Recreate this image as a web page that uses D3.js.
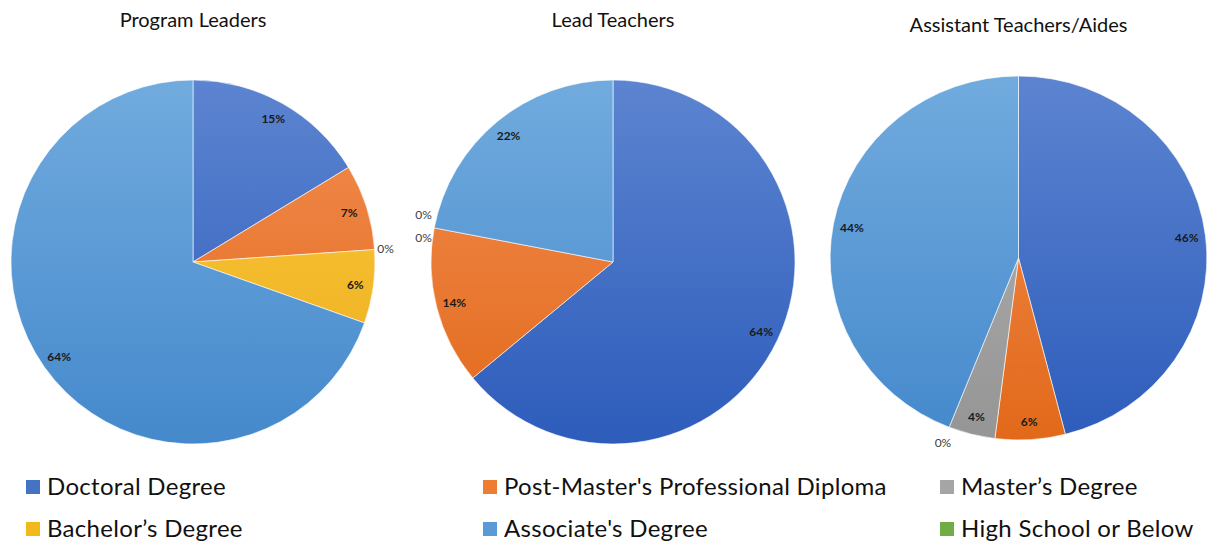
<!DOCTYPE html>
<html>
<head>
<meta charset="utf-8">
<script src="https://cdn.jsdelivr.net/npm/d3@7"></script>
<style>
  body { margin: 0; background: #fff; }
  svg text { font-family: Lato, "Open Sans", sans-serif; }
</style>
</head>
<body>
<div id="chart"></div>
<script>
var categories = ["Doctoral Degree", "Post-Master's Professional Diploma", "Master’s Degree",
                  "Bachelor’s Degree", "Associate's Degree", "High School or Below"];
var titles = ["Program Leaders", "Lead Teachers", "Assistant Teachers/Aides"];
var programLeaders = [15, 7, 0, 6, 64, null];
var leadTeachers = [64, 14, 0, 0, 22, null];
var assistantTeachers = [46, 6, 4, 0, 44, null];

var colors = ["#4472c4", "#ed7d31", "#a5a5a5", "#f2b91c", "#5b9bd5", "#70ad47"];
var topColors = ["#5c84d0", "#f28d52", "#b4b4b4", "#ffc93f", "#71abde", "#82bd5a"];
var bottomColors = ["#2d5cbb", "#e2691a", "#959595", "#e9ad1b", "#4589cc", "#5e9a38"];

var width = 1208, height = 541;
var svg = d3.select("#chart").append("svg")
    .attr("width", width)
    .attr("height", height);

var r = 182;
var pies = [
  {title: titles[0], values: programLeaders, cx: 193, cy: 262, sx: 1, ty: 27, zr: 1.06},
  {title: titles[1], values: leadTeachers, cx: 613, cy: 262, sx: 1, ty: 27, zr: 1.06},
  {title: titles[2], values: assistantTeachers, cx: 1018.5, cy: 258, sx: 1.035, ty: 32, zr: 1.09}
];

// gradients, in each pie's local coords
var defs = svg.append("defs");
categories.forEach(function(c, i) {
  var g = defs.append("linearGradient")
      .attr("id", "grad" + i)
      .attr("gradientUnits", "userSpaceOnUse")
      .attr("x1", 0).attr("y1", -r).attr("x2", 0).attr("y2", r);
  g.append("stop").attr("offset", "0%").attr("stop-color", topColors[i]);
  g.append("stop").attr("offset", "100%").attr("stop-color", bottomColors[i]);
});

var pie = d3.pie().sort(null).value(function(d) { return d.v || 0; });
var arc = d3.arc().innerRadius(0).outerRadius(r);

pies.forEach(function(p) {
  var data = p.values.map(function(v, i) { return {v: v, i: i}; });
  var arcs = pie(data);

  svg.append("text")
      .attr("x", p.cx)
      .attr("y", p.ty)
      .attr("text-anchor", "middle")
      .attr("font-size", "20px")
      .attr("fill", "#111")
      .text(p.title);

  var g = svg.append("g")
      .attr("transform", "translate(" + p.cx + "," + p.cy + ") scale(" + p.sx + ",1)");

  g.selectAll("path")
      .data(arcs.filter(function(d) { return d.data.v > 0; }))
    .enter().append("path")
      .attr("d", arc)
      .attr("fill", function(d) { return "url(#grad" + d.data.i + ")"; })
      .attr("stroke", "#fff")
      .attr("stroke-width", 0.6);

  // labels
  var zeros = arcs.filter(function(d) { return d.data.v === 0; });
  arcs.forEach(function(d) {
    if (d.data.v == null) return;
    var a = (d.startAngle + d.endAngle) / 2, lr = 0.9 * r, dy = 0;
    var inside = d.data.v > 0;
    if (!inside) {
      lr = p.zr * r;
      var same = zeros.filter(function(z) { return Math.abs(z.startAngle - d.startAngle) < 1e-9; });
      if (same.length > 1) {
        var k = same.indexOf(d);
        dy = (k - (same.length - 1) / 2) * 23 * (Math.cos(a) < 0 ? 1 : -1);
      }
    }
    svg.append("text")
        .attr("x", p.cx + p.sx * lr * Math.sin(a))
        .attr("y", p.cy - lr * Math.cos(a) + dy)
        .attr("dy", "0.35em")
        .attr("text-anchor", "middle")
        .attr("font-size", "12px")
        .attr("font-weight", inside ? "bold" : "normal")
        .attr("fill", inside ? "#1a1a1a" : "#404040")
        .text(d.data.v + "%");
  });
});

// legend
var legX = [26, 483, 940], legY = [487, 529];
var legend = svg.append("g");
categories.forEach(function(c, i) {
  var col = i % 3, row = Math.floor(i / 3);
  legend.append("rect")
      .attr("x", legX[col])
      .attr("y", legY[row] - 7)
      .attr("width", 14)
      .attr("height", 14)
      .attr("fill", colors[i]);
  legend.append("text")
      .attr("x", legX[col] + 21)
      .attr("y", legY[row])
      .attr("dy", "0.35em")
      .attr("font-size", "24px")
      .attr("letter-spacing", "0.3px")
      .attr("fill", "#111")
      .text(c);
});
</script>
</body>
</html>
